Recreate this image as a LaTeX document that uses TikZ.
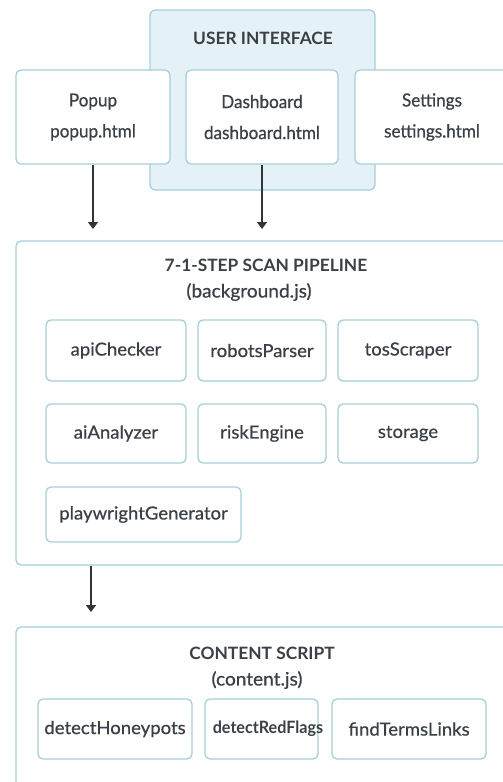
\documentclass[tikz,border=0pt]{standalone}
\usepackage{fontspec}
\setmainfont[FakeBold=0.6,FakeStretch=1.03]{Lato}
\newfontfamily\uif[FakeBold=0.6,FakeStretch=0.95]{Lato}
\newfontfamily\titlef[FakeStretch=1.02]{Lato Bold}
\newfontfamily\redf[FakeStretch=0.95]{Lato Bold}
\usetikzlibrary{arrows.meta}
\definecolor{bordc}{HTML}{A6CFDB}
\definecolor{uifill}{HTML}{E4F2F7}
\definecolor{txtc}{HTML}{3B4047}
\definecolor{arrc}{HTML}{30353B}
\tikzset{
  box/.style={draw=bordc, line width=1.3pt, rounded corners=5pt, fill=white, text=txtc, align=center, inner sep=0pt},
  modbox/.style={box, font=\fontsize{18}{20}\selectfont},
  uibox/.style={box, font=\uif\fontsize{18}{31}\selectfont},
  titletext/.style={text=txtc, font=\titlef\fontsize{17}{19}\selectfont},
  subtext/.style={text=txtc, font=\fontsize{18.5}{20}\selectfont},
  arr/.style={draw=arrc, line width=1.4pt, -{Triangle[length=7pt,width=10pt]}}
}
\begin{document}
\begin{tikzpicture}[x=1pt,y=-1pt]
\useasboundingbox (0,0) rectangle (503,782);
\clip (0,0) rectangle (503,782);
\fill[white] (0,0) rectangle (503,782);
% user interface group
\node[box, fill=uifill, minimum width=225pt, minimum height=180pt] (ui) at (262.5,100) {};
\node[titletext] (uit) at (263,38) {USER INTERFACE};
\node[uibox, minimum width=154pt, minimum height=94pt] (popup) at (93,117) {\raisebox{-2pt}{Popup}\\\raisebox{-2pt}{popup.html}};
\node[uibox, minimum width=152pt, minimum height=94pt] (dash) at (262,117) {\raisebox{-2pt}{Dashboard}\\\raisebox{-2pt}{dashboard.html}};
\node[uibox, minimum width=154pt, minimum height=94pt] (sett) at (432,117) {\raisebox{-2pt}{Settings}\\\raisebox{-2pt}{settings.html}};
% pipeline
\node[box, minimum width=500pt, minimum height=324pt] (pipe) at (266,403) {};
\node[titletext] (pipet) at (266,265) {7-1-STEP SCAN PIPELINE};
\node[subtext] (pipes) at (249,292) {(background.js)};
\node[modbox, minimum width=140pt, minimum height=61pt] (api) at (116,350.5) {apiChecker};
\node[modbox, minimum width=128pt, minimum height=61pt] (rob) at (262,350.5) {robotsParser};
\node[modbox, minimum width=140pt, minimum height=61pt] (tos) at (408,350.5) {tosScraper};
\node[modbox, minimum width=140pt, minimum height=59pt] (ai) at (116,433.5) {aiAnalyzer};
\node[modbox, minimum width=128pt, minimum height=59pt] (risk) at (262,433.5) {riskEngine};
\node[modbox, minimum width=140pt, minimum height=59pt] (stor) at (408,433.5) {storage};
\node[modbox, minimum width=195pt, minimum height=55pt] (play) at (143.5,514.5) {playwrightGenerator};
% content script
\node[box, minimum width=492pt, minimum height=200pt] (cont) at (262,727) {};
\node[titletext] (contt) at (262,653) {CONTENT SCRIPT};
\node[subtext] (conts) at (257,680) {(content.js)};
\node[modbox, minimum width=154pt, minimum height=60pt] (hon) at (115,729) {detectHoneypots};
\node[box, minimum width=113pt, minimum height=60pt] (red) at (261.5,729) {};
\node[text=txtc, font=\redf\fontsize{17}{19}\selectfont, inner sep=0pt] (redt) at (268,729) {detectRedFlags};
\node[modbox, minimum width=154pt, minimum height=60pt] (terms) at (409,729) {findTermsLinks};
% arrows
\coordinate (e1) at (93,229);
\coordinate (e2) at (262,229);
\coordinate (e3) at (91,612);
\draw[arr] (popup.south) -- (e1);
\draw[arr] (dash.south) -- (e2);
\draw[arr] (pipe.south -| e3) -- (e3);
\end{tikzpicture}
\end{document}
